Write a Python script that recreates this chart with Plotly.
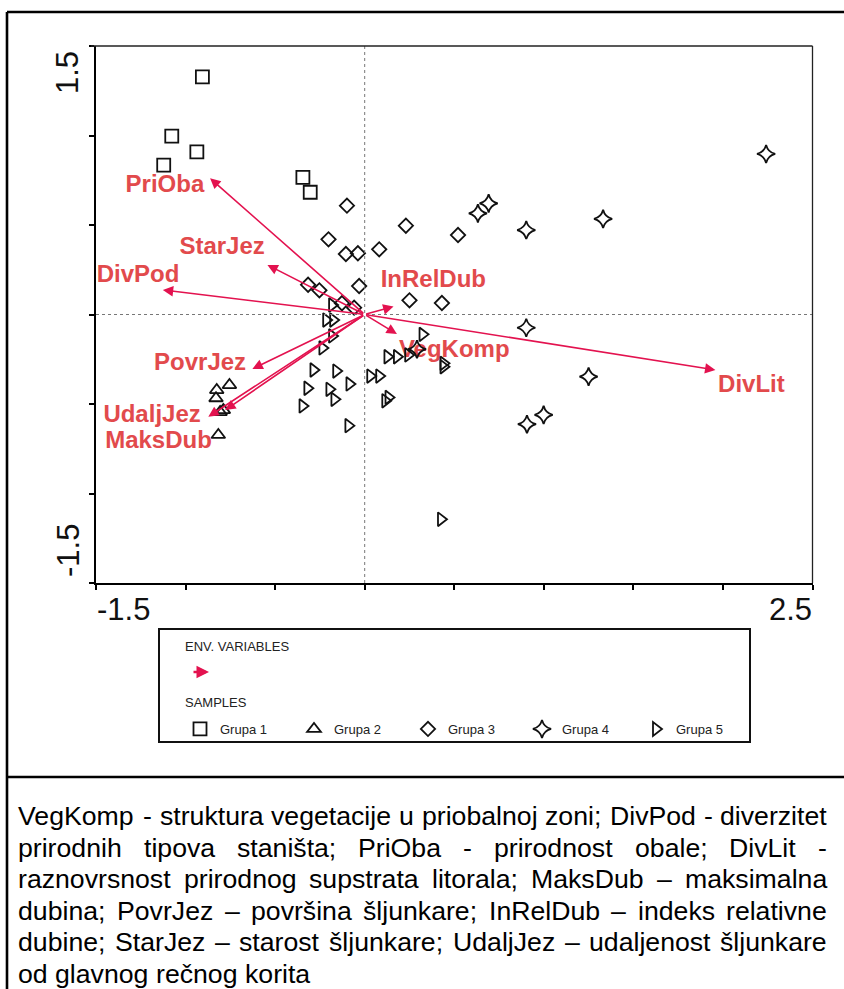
import plotly.graph_objects as go

# ---------------- data ----------------
g1_x = [-0.906, -1.077, -0.937, -1.122, -0.345, -0.304]
g1_y = [1.328, 0.997, 0.909, 0.834, 0.766, 0.683]

g2_x = [-0.755, -0.826, -0.830, -0.789, -0.807, -0.817]
g2_y = [-0.394, -0.422, -0.468, -0.534, -0.545, -0.673]

g3_x = [-0.099, 0.230, 0.521, -0.202, -0.105, -0.038, 0.081, -0.031, -0.316, -0.253, 0.250, 0.431, -0.127, -0.059]
g3_y = [0.608, 0.496, 0.444, 0.420, 0.338, 0.342, 0.364, 0.159, 0.166, 0.135, 0.079, 0.064, 0.063, 0.038]

g4_x = [2.241, 1.331, 0.692, 0.632, 0.902, 0.902, 1.250, 0.999, 0.906, 0.292]
g4_y = [0.897, 0.534, 0.621, 0.565, 0.472, -0.074, -0.347, -0.561, -0.613, -0.194]

g5_x = [-0.182, -0.215, -0.176, -0.182, -0.236, 0.323, 0.127, 0.180, 0.243, 0.440, 0.440, -0.286,
        -0.159, -0.085, -0.320, -0.197, 0.031, 0.081, -0.169, -0.347, 0.133, 0.115, -0.091, 0.426]
g5_y = [0.053, -0.031, -0.031, -0.120, -0.187, -0.111, -0.236, -0.236, -0.226, -0.273, -0.292, -0.310,
        -0.316, -0.388, -0.412, -0.418, -0.344, -0.344, -0.474, -0.511, -0.463, -0.482, -0.621, -1.144]

group_names = ["Grupa 1", "Grupa 2", "Grupa 3", "Grupa 4", "Grupa 5"]

env_names = ["PriOba", "StarJez", "DivPod", "InRelDub", "VegKomp", "DivLit", "PovrJez", "UdaljJez", "MaksDub"]
env_x = [-0.863, -0.543, -1.127, 0.161, 0.180, 1.958, -0.627, -0.873, -0.779]
env_y = [0.761, 0.277, 0.137, 0.044, -0.109, -0.310, -0.304, -0.571, -0.534]
env_label_x = [-1.115, -0.796, -1.265, 0.383, 0.500, 2.159, -0.919, -1.187, -1.151]
env_label_y = [0.718, 0.372, 0.215, 0.188, -0.206, -0.399, -0.276, -0.565, -0.712]

x_tick_labels = ["-1.5", "2.5"]
y_tick_labels = ["1.5", "-1.5"]

caption_lines = [
    "VegKomp - struktura vegetacije u priobalnoj zoni; DivPod - diverzitet",
    "prirodnih tipova staništa; PriOba - prirodnost obale; DivLit -",
    "raznovrsnost prirodnog supstrata litorala; MaksDub – maksimalna",
    "dubina; PovrJez – površina šljunkare; InRelDub – indeks relativne",
    "dubine; StarJez – starost šljunkare; UdaljJez – udaljenost šljunkare",
    "od glavnog rečnog korita",
]

# ---------------- style ----------------
W, H = 844, 989
FONT = "Liberation Sans, Arial, sans-serif"
ARROW = "#E3124F"
LABEL = "#E24A4C"
BLACK = "#111111"


def px(x):
    return x / W


def py(y):
    return 1 - y / H


fig = go.Figure()

# labels of environmental variables (under the sample symbols)
fig.add_trace(go.Scatter(
    x=env_label_x, y=env_label_y, text=env_names, mode="text",
    textposition="middle center",
    textfont=dict(family=FONT, size=24, color=LABEL, weight="bold"),
    showlegend=False, hoverinfo="skip"))

symbols = ["square-open", "triangle-up-open", "diamond-open", "star-diamond-open", "triangle-right-open"]
sizes = [13, 12, 11, 13, 12]
groups = [(g1_x, g1_y), (g2_x, g2_y), (g3_x, g3_y), (g4_x, g4_y), (g5_x, g5_y)]
for (gx, gy), name, sym, sz in zip(groups, group_names, symbols, sizes):
    fig.add_trace(go.Scatter(
        x=gx, y=gy, mode="markers", name=name,
        marker=dict(symbol=sym, size=sz, color=BLACK, line=dict(color=BLACK, width=1.8)),
        hoverinfo="skip"))

annotations = []
# biplot arrows from origin
for ex, ey in zip(env_x, env_y):
    annotations.append(dict(
        x=ex, y=ey, xref="x", yref="y", ax=0, ay=0, axref="x", ayref="y",
        text="", showarrow=True, arrowhead=2, arrowsize=1.3, arrowwidth=1.6,
        arrowcolor=ARROW, standoff=0))

# axis end labels
annotations.append(dict(x=px(95), y=py(609), xref="paper", yref="paper", text=x_tick_labels[0],
                        showarrow=False, xanchor="left", yanchor="middle",
                        font=dict(family=FONT, size=31, color=BLACK)))
annotations.append(dict(x=px(814), y=py(609), xref="paper", yref="paper", text=x_tick_labels[1],
                        showarrow=False, xanchor="right", yanchor="middle",
                        font=dict(family=FONT, size=31, color=BLACK)))
annotations.append(dict(x=px(68), y=py(73), xref="paper", yref="paper", text=y_tick_labels[0],
                        showarrow=False, xanchor="center", yanchor="middle", textangle=-90,
                        font=dict(family=FONT, size=31, color=BLACK)))
annotations.append(dict(x=px(68), y=py(551), xref="paper", yref="paper", text=y_tick_labels[1],
                        showarrow=False, xanchor="center", yanchor="middle", textangle=-90,
                        font=dict(family=FONT, size=31, color=BLACK)))

# legend: env variables part and samples header
annotations.append(dict(x=px(183), y=py(646), xref="paper", yref="paper", text="ENV. VARIABLES",
                        showarrow=False, xanchor="left", yanchor="middle",
                        font=dict(family=FONT, size=13, color="#222")))
annotations.append(dict(x=px(209), y=py(672), xref="paper", yref="paper", ax=-17, ay=0,
                        text="", showarrow=True, arrowhead=2, arrowsize=1.0, arrowwidth=2.5,
                        arrowcolor=ARROW, standoff=0))
annotations.append(dict(x=px(183), y=py(702), xref="paper", yref="paper", text="SAMPLES",
                        showarrow=False, xanchor="left", yanchor="middle",
                        font=dict(family=FONT, size=13, color="#222")))

# caption (justified)
ARIAL_W = {
    " ": 278, "-": 333, ";": 278, "–": 556,
    "a": 556, "b": 556, "c": 500, "d": 556, "e": 556, "f": 278, "g": 556, "h": 556, "i": 222,
    "j": 222, "k": 500, "l": 222, "m": 833, "n": 556, "o": 556, "p": 556, "q": 556, "r": 333,
    "s": 500, "t": 278, "u": 556, "v": 500, "w": 722, "x": 500, "y": 500, "z": 500,
    "š": 500, "č": 500,
    "A": 667, "B": 667, "C": 722, "D": 722, "E": 667, "F": 611, "G": 778, "H": 722, "I": 278,
    "J": 500, "K": 667, "L": 556, "M": 833, "N": 722, "O": 778, "P": 667, "Q": 778, "R": 722,
    "S": 667, "T": 611, "U": 722, "V": 667, "W": 944, "X": 667, "Y": 667, "Z": 611,
}


def em_width(s):
    return sum(ARIAL_W.get(ch, 556) for ch in s) / 1000.0


CAP_L, CAP_R = 18, 827
cap_size = 0.995 * (CAP_R - CAP_L) / max(em_width(l) for l in caption_lines[:-1])
for i, line in enumerate(caption_lines):
    words = line.split(" ")
    widths = [em_width(w) * cap_size for w in words]
    if i == len(caption_lines) - 1:
        gap = ARIAL_W[" "] / 1000 * cap_size
    else:
        gap = (CAP_R - CAP_L - sum(widths)) / (len(words) - 1)
    xcur = CAP_L
    ycen = 816 + i * 31.6
    for w, wd in zip(words, widths):
        annotations.append(dict(x=px(xcur), y=py(ycen), xref="paper", yref="paper", text=w,
                                showarrow=False, xanchor="left", yanchor="middle",
                                borderpad=0, borderwidth=0,
                                font=dict(family=FONT, size=cap_size, color="#000")))
        xcur += wd + gap

shapes = [
    # zero lines
    dict(type="line", xref="x", yref="y", x0=0, x1=0, y0=-1.5, y1=1.5,
         line=dict(color="#777", width=1, dash="dot")),
    dict(type="line", xref="x", yref="y", x0=-1.5, x1=2.5, y0=0, y1=0,
         line=dict(color="#777", width=1, dash="dot")),
    # top & right thin frame of plot
    dict(type="line", xref="paper", yref="paper", x0=px(91), x1=px(812.5), y0=py(46), y1=py(46),
         line=dict(color="#222", width=1.3)),
    dict(type="line", xref="paper", yref="paper", x0=px(812.5), x1=px(812.5), y0=py(46), y1=py(583),
         line=dict(color="#222", width=1.3)),
    # legend box
    dict(type="rect", xref="paper", yref="paper", x0=px(159), x1=px(750), y0=py(629), y1=py(742),
         line=dict(color="#111", width=2), fillcolor="rgba(0,0,0,0)"),
    # outer frame
    dict(type="line", xref="paper", yref="paper", x0=px(7), x1=px(7), y0=py(12), y1=py(995),
         line=dict(color="#000", width=2.6)),
    dict(type="line", xref="paper", yref="paper", x0=px(7), x1=px(850), y0=py(12), y1=py(12),
         line=dict(color="#000", width=2.6)),
    dict(type="line", xref="paper", yref="paper", x0=px(7), x1=px(850), y0=py(777), y1=py(777),
         line=dict(color="#000", width=2.6)),
]

tick_vals_x = [-1.5, -1.0, -0.5, 0.0, 0.5, 1.0, 1.5, 2.0, 2.5]
tick_vals_y = [-1.5, -1.0, -0.5, 0.0, 0.5, 1.0, 1.5]

fig.update_layout(
    width=W, height=H,
    margin=dict(l=0, r=0, t=0, b=0),
    paper_bgcolor="white", plot_bgcolor="white",
    font=dict(family=FONT, color=BLACK),
    xaxis=dict(domain=[px(96), px(812.5)], range=[-1.5, 2.5], showgrid=False, zeroline=False,
               showline=True, linecolor="#000", linewidth=2, ticks="outside", ticklen=5,
               tickwidth=1.5, tickcolor="#000", tickvals=tick_vals_x, showticklabels=False,
               fixedrange=True),
    yaxis=dict(domain=[py(583), py(46)], range=[-1.5, 1.5], showgrid=False, zeroline=False,
               showline=True, linecolor="#000", linewidth=2, ticks="outside", ticklen=5,
               tickwidth=1.5, tickcolor="#000", tickvals=tick_vals_y, showticklabels=False,
               fixedrange=True),
    showlegend=True,
    legend=dict(
        orientation="h", x=px(180), y=py(714), xanchor="left", yanchor="top",
        font=dict(family=FONT, size=13, color="#222"),
        entrywidth=69, entrywidthmode="pixels", itemsizing="trace",
        bgcolor="rgba(0,0,0,0)", borderwidth=0, traceorder="normal",
    ),
    annotations=annotations,
    shapes=shapes,
)

fig.write_html("out.html", config={"displayModeBar": False},
               post_script="document.body.style.margin='0px';")
